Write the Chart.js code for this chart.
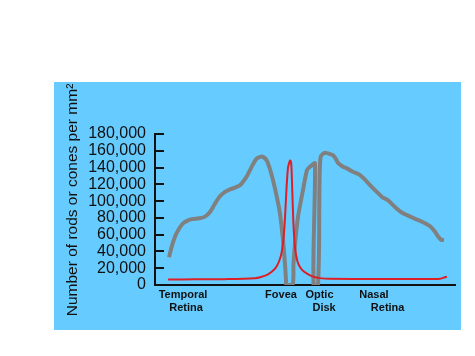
<!DOCTYPE html>
<html>
<head>
<meta charset="utf-8">
<script src="https://cdn.jsdelivr.net/npm/chart.js@4/dist/chart.umd.min.js"></script>
<style>
  html, body { margin: 0; padding: 0; background: #ffffff; }
  #panel { position: absolute; left: 54px; top: 82px; width: 407px; height: 248px; background: #66ccff; }
</style>
</head>
<body>
<div id="panel"><canvas id="c"></canvas></div>
<script>
// Position along the retina (arbitrary units, 0 = left end of axis, 300 = right end)
const rodPositions = [14,17,20,24,28,33,37,44,50,55,59,62,66,70,75,80,85,88,92,95,99,102,106,109,112,115,118,122,125,128,130,131,131.5,137.5,138.5,139.5,143,148,152,155,157,160,158.5,163,164.5,165.5,168,171,175,178,181,183,188,192,198,205,212,220,227,230,233,240,246,252,258,265,275,280,283,286,289];
const rodValues = [33000,47000,57500,67000,73500,77000,78500,79500,81500,87000,95000,101000,107000,111000,114000,116000,119000,123000,130000,137000,146000,151000,153000,152000,148000,138000,125000,104000,85000,53500,25000,6000,0,0,25000,42000,81000,113000,137000,141000,143000,145000,0,0,120000,152000,156500,157500,156000,154700,150000,145500,141000,139000,135000,131000,123000,113000,105000,103000,101000,93000,87000,83300,80000,76500,70200,63400,58000,54000,53500];
const conePositions = [13,40,70,100,106,112,117,121,124,126.5,128.5,130,131.5,133,134.3,135.2,136.2,137.2,138.2,139.3,140.5,143,147,152,158,165,175,220,280,285,288,292];
const coneValues = [6500,6800,7000,8000,9500,12000,16000,21000,28000,38000,55000,80000,115000,140000,146000,148500,145000,115000,80000,55000,40000,26000,18000,13500,10000,8200,7500,7200,7200,7500,8500,10000];
const yTicks = [0,20000,40000,60000,80000,100000,120000,140000,160000,180000];
const xLabelPositions = [28,126,166,225];
const xLabels = [["Temporal","  Retina"],["Fovea"],["Optic ","  Disk"],["Nasal    ","     Retina"]];
const yTitle = "Number of rods or cones per mm\u00B2";

const toPts = (xs, ys) => xs.map((x, i) => ({x: x, y: ys[i]}));

Chart.defaults.font.family = "'Liberation Sans', Arial, sans-serif";
Chart.defaults.color = "#111111";

const decor = {
  id: 'decor',
  afterDraw(chart) {
    const ctx = chart.ctx;
    const y = chart.scales.y;
    const area = chart.chartArea;
    ctx.save();
    ctx.strokeStyle = '#111111';
    ctx.lineWidth = 2;
    yTicks.forEach(v => {
      const py = Math.round(y.getPixelForValue(v));
      ctx.beginPath();
      ctx.moveTo(area.left, py);
      ctx.lineTo(area.left + 9, py);
      ctx.stroke();
    });
    ctx.translate(19, 118);
    ctx.rotate(-Math.PI / 2);
    ctx.fillStyle = '#111111';
    ctx.font = "15.5px 'Liberation Sans', Arial, sans-serif";
    ctx.textAlign = 'center';
    ctx.textBaseline = 'middle';
    ctx.fillText(yTitle, 0, 0);
    ctx.restore();
  }
};

new Chart(document.getElementById('c'), {
  type: 'scatter',
  data: {
    datasets: [
      { label: 'Cones', data: toPts(conePositions, coneValues), showLine: true, borderColor: '#dd1f26', borderWidth: 2, pointRadius: 0, tension: 0.3, order: 0 },
      { label: 'Rods', data: toPts(rodPositions, rodValues), showLine: true, borderColor: '#808080', borderWidth: 4, pointRadius: 0, tension: 0.3, order: 1 }
    ]
  },
  options: {
    responsive: true,
    maintainAspectRatio: false,
    animation: false,
    layout: { padding: { left: 0, right: 6, top: 52, bottom: 0 } },
    plugins: { legend: { display: false }, tooltip: { enabled: false } },
    scales: {
      x: {
        type: 'linear', min: 0, max: 300,
        grid: { display: false },
        border: { display: true, color: '#111111', width: 2 },
        afterBuildTicks: axis => { axis.ticks = xLabelPositions.map(v => ({ value: v })); },
        afterFit: s => { s.height = 45; },
        ticks: {
          autoSkip: false, maxRotation: 0, padding: -4,
          font: { size: 11, weight: 'bold', lineHeight: 1.15 },
          callback: (v) => { const i = xLabelPositions.indexOf(v); return i >= 0 ? xLabels[i] : ''; }
        }
      },
      y: {
        min: 0, max: 180000,
        grid: { display: false },
        border: { display: true, color: '#111111', width: 2 },
        afterBuildTicks: axis => { axis.ticks = yTicks.map(v => ({ value: v })); },
        afterFit: s => { s.width = 101; },
        ticks: {
          autoSkip: false,
          padding: 1,
          font: { size: 16 },
          callback: v => v.toLocaleString('en-US')
        }
      }
    }
  },
  plugins: [decor]
});
</script>
</body>
</html>
